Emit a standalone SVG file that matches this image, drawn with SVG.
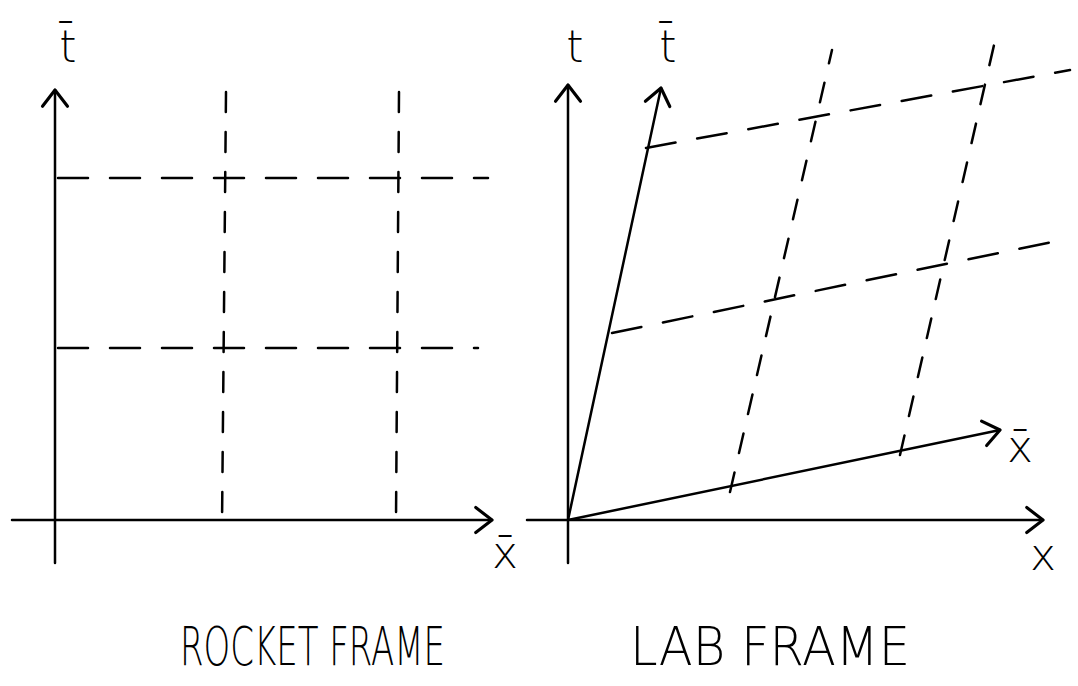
<svg xmlns="http://www.w3.org/2000/svg" width="1078" height="686" viewBox="0 0 1078 686">
<style>
.ax{stroke:#000;stroke-width:2.5;fill:none;stroke-linecap:round}
.dh{stroke:#000;stroke-width:2.5;fill:none;stroke-dasharray:30 22;stroke-linecap:round}
.dv{stroke:#000;stroke-width:2.5;fill:none;stroke-dasharray:20 20;stroke-linecap:round}
.lb{font-family:"DejaVu Sans",sans-serif;font-size:44px;font-weight:200;fill:#000;text-anchor:middle}
.tt{font-family:"DejaVu Sans",sans-serif;font-size:54px;font-weight:200;fill:#000}
</style>
<defs>
<marker id="arr" markerUnits="userSpaceOnUse" markerWidth="30" markerHeight="30" viewBox="-16 -12 20 24" refX="0" refY="0" orient="auto">
<path d="M-13,-10 L0,0 L-13,10" fill="none" stroke="#000" stroke-width="2.5" stroke-linecap="round" stroke-linejoin="round"/>
</marker>
</defs>
<g id="rocket-frame">
<g id="rocket-axes">
<line class="ax" x1="55" y1="563" x2="55" y2="90" marker-end="url(#arr)"/>
<line class="ax" x1="12" y1="520" x2="492" y2="520" marker-end="url(#arr)"/>
</g>
<g id="rocket-grid">
<line class="dh" x1="58" y1="178" x2="488" y2="178"/>
<line class="dh" x1="58" y1="348" x2="478" y2="348"/>
<line class="dv" x1="226" y1="92" x2="222" y2="525"/>
<line class="dv" x1="399" y1="92" x2="396" y2="520"/>
</g>
<text id="rocket-tbar" class="lb" x="68" y="62">t̄</text>
<text id="rocket-xbar" class="lb" x="505" y="568">x̄</text>
<text id="rocket-title" class="tt" x="180" y="665" textLength="265" lengthAdjust="spacingAndGlyphs">ROCKET FRAME</text>
</g>
<g id="lab-frame">
<g id="lab-axes">
<line class="ax" x1="568" y1="563" x2="568" y2="85" marker-end="url(#arr)"/>
<line class="ax" x1="527" y1="520" x2="1043" y2="520" marker-end="url(#arr)"/>
<line class="ax" x1="568" y1="520" x2="661" y2="88" marker-end="url(#arr)"/>
<line class="ax" x1="568" y1="520" x2="1000" y2="430" marker-end="url(#arr)"/>
</g>
<g id="lab-grid">
<line class="dh" x1="646" y1="148" x2="1070" y2="70"/>
<line class="dh" x1="612" y1="333" x2="1052" y2="242"/>
<line class="dv" x1="730" y1="492" x2="832" y2="50"/>
<line class="dv" x1="900" y1="455" x2="997" y2="32"/>
</g>
<text id="lab-t" class="lb" x="575" y="62">t</text>
<text id="lab-tbar" class="lb" x="668" y="62">t̄</text>
<text id="lab-xbar" class="lb" x="1020" y="462">x̄</text>
<text id="lab-x" class="lb" x="1043" y="570">x</text>
<text id="lab-title" class="tt" x="630" y="665" textLength="280" lengthAdjust="spacingAndGlyphs">LAB FRAME</text>
</g>
</svg>
